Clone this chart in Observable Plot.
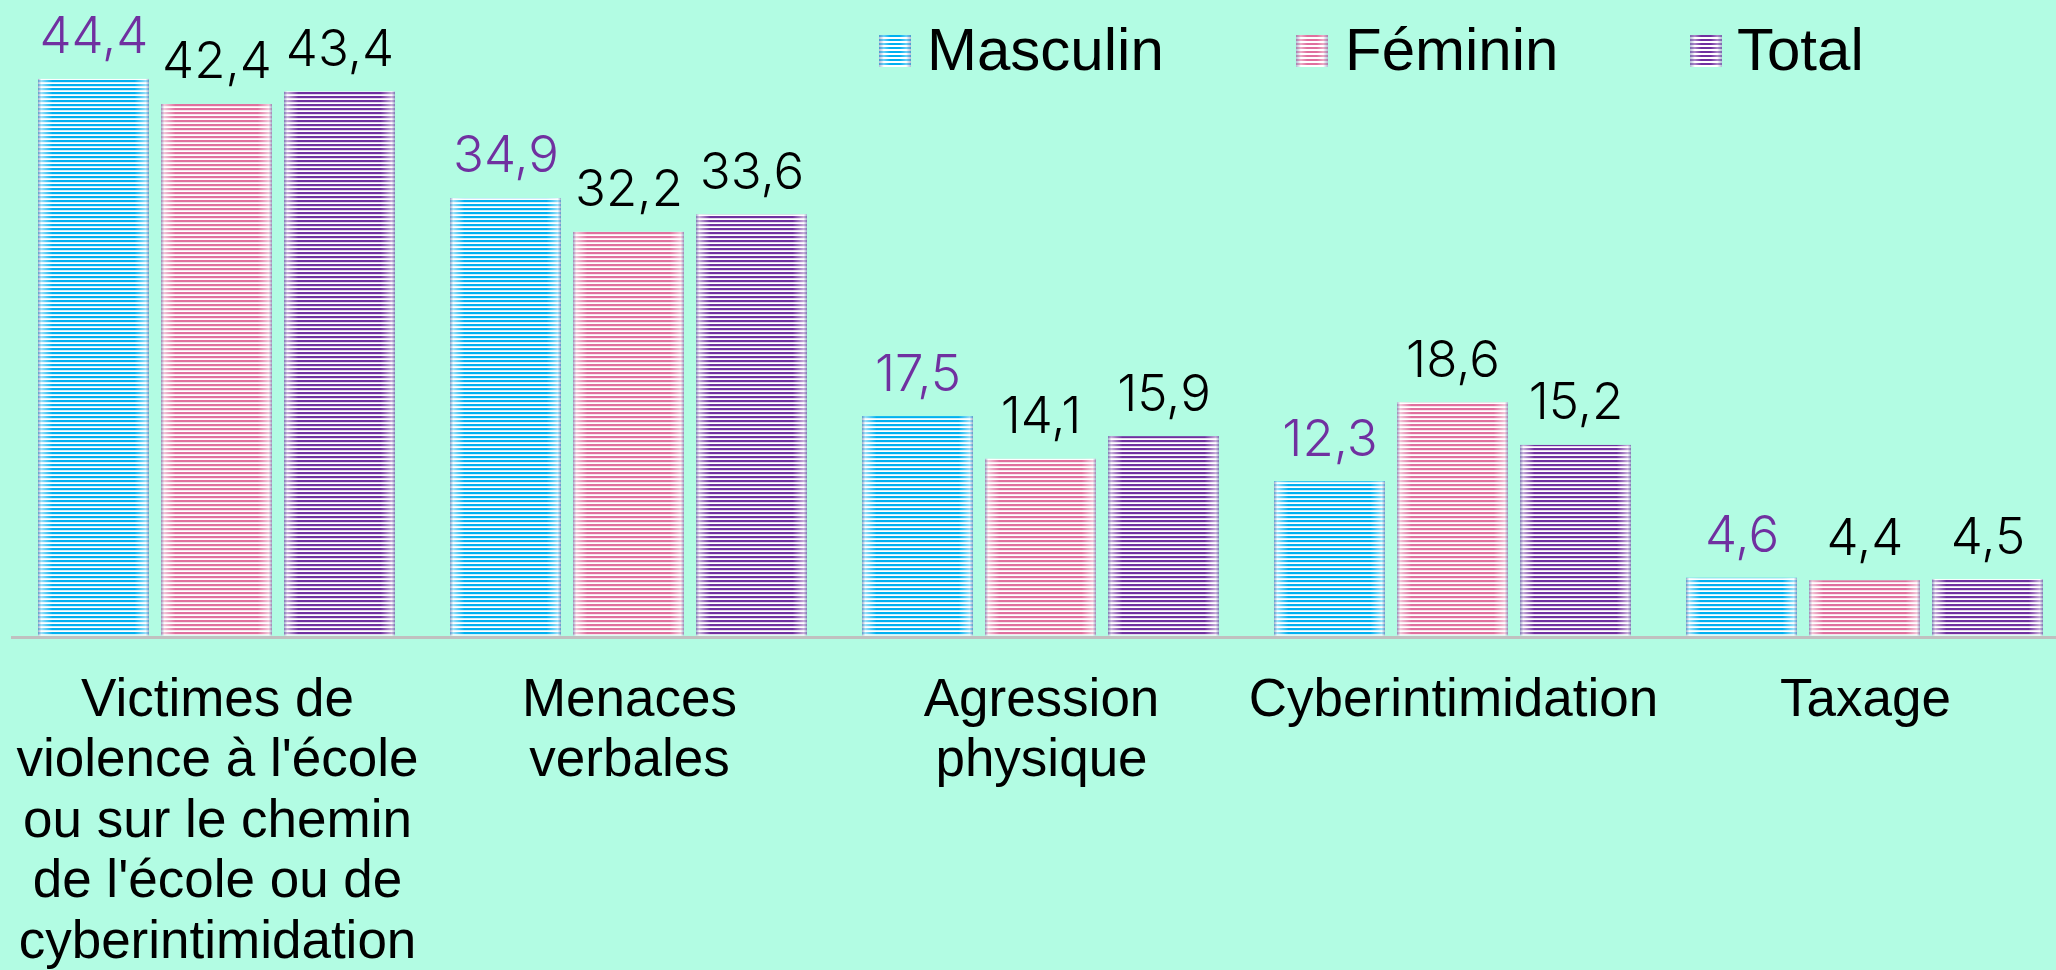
<!DOCTYPE html>
<html><head><meta charset="utf-8">
<script src="https://cdn.jsdelivr.net/npm/d3@7"></script>
<script src="https://cdn.jsdelivr.net/npm/@observablehq/plot@0.6"></script>
<style>
html,body{margin:0;padding:0;background:#b2fce3;overflow:hidden;}
#wrap{position:relative;width:2056px;height:970px;overflow:hidden;}
#chart{position:absolute;left:0;top:0;}
#chart svg{max-width:none !important;}
.lg-sw{position:absolute;top:35px;width:32px;height:32px;box-sizing:border-box;}
.lg-tx{position:absolute;top:20px;font-family:"Liberation Sans",Arial,sans-serif;font-size:60px;line-height:60px;color:#000;white-space:nowrap;}
</style></head><body>
<div id="wrap"><div id="chart"></div><div id="legend"></div></div>
<script>
// ---- data ----
const categories = [
  "Victimes de\nviolence à l'école\nou sur le chemin\nde l'école ou de\ncyberintimidation",
  "Menaces\nverbales",
  "Agression\nphysique",
  "Cyberintimidation",
  "Taxage"
];
const series = ["Masculin", "Féminin", "Total"];
const masculin = [44.4, 34.9, 17.5, 12.3, 4.6];
const feminin  = [42.4, 32.2, 14.1, 18.6, 4.4];
const total    = [43.4, 33.6, 15.9, 15.2, 4.5];

const seriesValues = {"Masculin": masculin, "Féminin": feminin, "Total": total};
const stripe = {"Masculin": "#00b0f0", "Féminin": "#e0709e", "Total": "#7030a0"};
const patId = {"Masculin": "pM", "Féminin": "pF", "Total": "pT"};

const data = [];
categories.forEach((c, i) => series.forEach(s => data.push({cat: c, s, v: seriesValues[s][i]})));

const fmt = v => v.toFixed(1).replace(".", ",");

const barMarks = series.map(s =>
  Plot.barY(data.filter(d => d.s === s), {fx: "cat", x: "s", y: "v", fill: `url(#${patId[s]})`})
);

const chart = Plot.plot({
  width: 2073, height: 970,
  marginLeft: 9, marginRight: 0, marginTop: 78.9, marginBottom: 334.5,
  style: {background: "transparent", overflow: "visible", maxWidth: "none"},
  fx: {domain: categories, padding: 0, axis: null},
  x: {domain: series, paddingInner: 0.0973, paddingOuter: 0.2226, axis: null},
  y: {domain: [0, 44.4], axis: null},
  marks: [
    Plot.ruleY([0], {stroke: "#c0c0c0", strokeWidth: 3, dy: 1.5}),
    ...barMarks,
    Plot.barY(data, {fx: "cat", x: "s", y: "v", fill: "url(#edge)"}),
    Plot.text(data, {
      fx: "cat", x: "s", y: "v", text: d => fmt(d.v), dy: -26, lineAnchor: "bottom",
      fontSize: 51, fontWeight: 300, fontFamily: "Inter, 'Open Sans', sans-serif",
      fill: d => d.s === "Masculin" ? "#7030a0" : "#000000"
    }),
    Plot.text(categories, {
      fx: d => d, text: d => d, frameAnchor: "bottom", lineAnchor: "top", dy: 37,
      fontSize: 53, lineHeight: 1.14, fontFamily: "'Liberation Sans', Arial, sans-serif", fill: "#000000"
    })
  ]
});

// patterns and gradient
const svg = d3.select(chart);
const defs = svg.insert("defs", ":first-child");
series.forEach(s => {
  const p = defs.append("pattern").attr("id", patId[s]).attr("patternUnits", "userSpaceOnUse")
    .attr("width", 8).attr("height", 4);
  p.append("rect").attr("width", 8).attr("height", 4).attr("fill", "#ffffff");
  p.append("rect").attr("width", 8).attr("height", 2.2).attr("fill", stripe[s]);
});
const g = defs.append("linearGradient").attr("id", "edge").attr("x1", 0).attr("x2", 1).attr("y1", 0).attr("y2", 0);
[[0, "rgb(130,140,185)", 0.75], [0.03, "rgb(255,255,255)", 0.6], [0.13, "rgb(255,255,255)", 0],
 [0.87, "rgb(255,255,255)", 0], [0.97, "rgb(255,255,255)", 0.6], [1, "rgb(130,140,185)", 0.75]]
  .forEach(([o, c, a]) => g.append("stop").attr("offset", o).attr("stop-color", c).attr("stop-opacity", a));

document.getElementById("chart").appendChild(chart);

// legend
const legend = document.getElementById("legend");
const legendPos = {"Masculin": [879, 927], "Féminin": [1296, 1345], "Total": [1690, 1737]};
series.forEach(s => {
  const sw = document.createElement("div");
  sw.className = "lg-sw";
  sw.style.left = legendPos[s][0] + "px";
  sw.style.background = `linear-gradient(90deg, rgba(130,140,185,0.6), rgba(255,255,255,0.4) 15%, rgba(255,255,255,0) 35%, rgba(255,255,255,0) 65%, rgba(255,255,255,0.4) 85%, rgba(130,140,185,0.6)), repeating-linear-gradient(180deg, ${stripe[s]} 0px, ${stripe[s]} 2.2px, #ffffff 2.2px, #ffffff 4px)`;
  legend.appendChild(sw);
  const tx = document.createElement("div");
  tx.className = "lg-tx";
  tx.style.left = legendPos[s][1] + "px";
  tx.textContent = s;
  legend.appendChild(tx);
});
</script>
</body></html>
